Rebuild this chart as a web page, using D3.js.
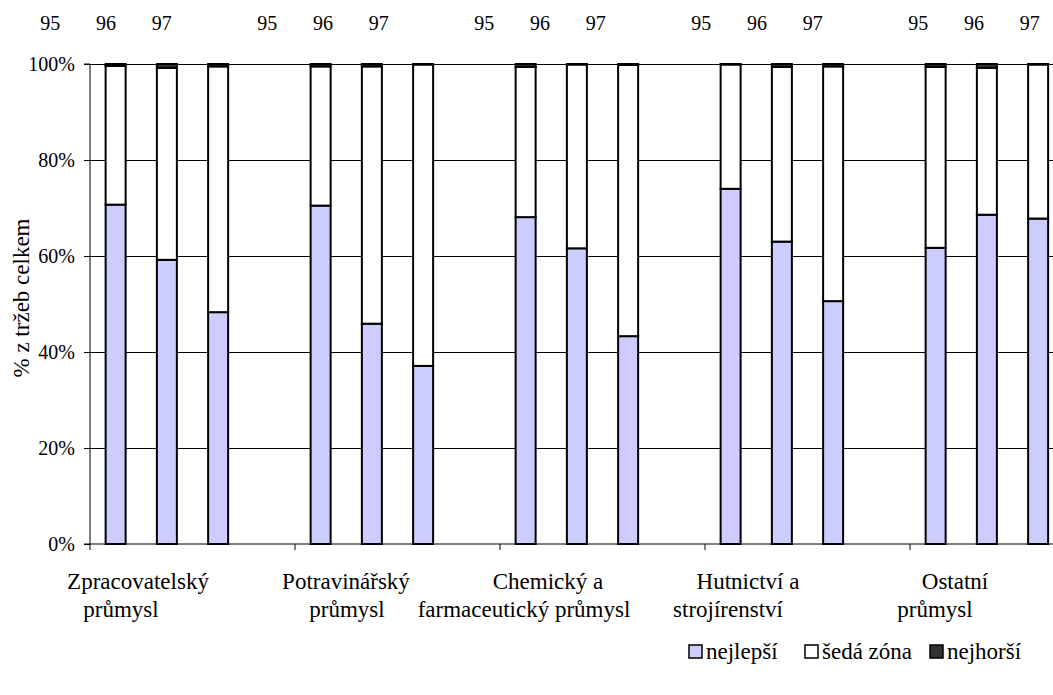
<!DOCTYPE html>
<html><head><meta charset="utf-8">
<script src="https://cdn.jsdelivr.net/npm/d3@7/dist/d3.min.js"></script>
</head><body style="margin:0;background:#fff"><svg id="c" width="1053" height="695" font-family="Times New Roman"></svg>
<script>
// ---- data ----
const categories = ["Zpracovatelský průmysl","Potravinářský průmysl","Chemický a farmaceutický průmysl","Hutnictví a strojírenství","Ostatní průmysl"];
const categoryLines = [["Zpracovatelský","průmysl"],["Potravinářský","průmysl"],["Chemický a","farmaceutický průmysl"],["Hutnictví a","strojírenství"],["Ostatní","průmysl"]];
const years = ["95","96","97"];
const seriesNames = ["nejlepší","šedá zóna","nejhorší"];
// values per category, per year (%)
const nejlepsi = [[70.7,59.2,48.3],[70.5,45.9,37.1],[68.1,61.6,43.3],[74.0,63.0,50.6],[61.7,68.6,67.8]];
const sedaZona = [[28.9,40.0,51.2],[29.0,53.6,62.8],[31.3,38.3,56.5],[25.9,36.4,48.9],[37.7,30.6,32.1]];
const nejhorsi = [[0.4,0.8,0.5],[0.5,0.5,0.1],[0.6,0.1,0.2],[0.1,0.6,0.5],[0.6,0.8,0.1]];
const yTicks = [0,20,40,60,80,100];
const colors = ["#ccccff","#ffffff","#333333"];

const svg = d3.select("#c");
const mLeft = 90, mTop = 64, mBottom = 544, plotRight = 1115;
const slots = ["95","96","97","gap"];
const xCat = d3.scaleBand().domain(categories).range([mLeft, plotRight]);
const xYear = d3.scaleBand().domain(slots).range([0, xCat.bandwidth()]);
const y = d3.scaleLinear().domain([0,100]).range([mBottom, mTop]);
const barW = 20;

function txt(sel, size){
  return sel.attr("font-family","Times New Roman").attr("font-size", size)
    .style("font-family", "Times New Roman").style("font-size", size+"px").attr("fill","#000");
}

svg.append("g").selectAll("line").data(yTicks.filter(d=>d>0)).join("line")
  .attr("x1", mLeft).attr("x2", 1053).attr("y1", d=>y(d)).attr("y2", d=>y(d))
  .attr("stroke", "#000").attr("stroke-width", 1).attr("shape-rendering","crispEdges");

const stackData = [];
categories.forEach((c,ci)=>{
  years.forEach((yr,yi)=>{
    const vals = [nejlepsi[ci][yi], sedaZona[ci][yi], nejhorsi[ci][yi]];
    let acc = 0;
    vals.forEach((v,si)=>{ stackData.push({c, yr, si, y0:acc, y1:acc+v}); acc+=v; });
  });
});
svg.append("g").selectAll("rect").data(stackData).join("rect")
  .attr("x", d=>xCat(d.c)+xYear(d.yr)+(xYear.bandwidth()-barW)/2)
  .attr("width", barW)
  .attr("y", d=>y(d.y1)).attr("height", d=>y(d.y0)-y(d.y1))
  .attr("fill", d=>colors[d.si]).attr("stroke","#000").attr("stroke-width",2);

const yAxis = d3.axisLeft(y).tickValues(yTicks).tickFormat(d=>d+"%").tickSize(6).tickPadding(9);
const ga = svg.append("g").attr("transform",`translate(${mLeft},0)`).call(yAxis);
ga.attr("font-family", "Times New Roman").attr("font-size", 20);
ga.select(".domain").attr("stroke","#000").attr("d",`M-6,${mTop}H0V${mBottom}H-6`);
ga.selectAll(".tick line").attr("stroke","#000");
txt(ga.selectAll("text"), 20);

const xa = svg.append("g");
xa.append("line").attr("x1",mLeft).attr("x2",1053).attr("y1",mBottom).attr("y2",mBottom).attr("stroke","#000");
xa.selectAll(".t").data(categories).join("line").attr("class","t")
  .attr("x1",d=>xCat(d)).attr("x2",d=>xCat(d)).attr("y1",mBottom).attr("y2",mBottom+6).attr("stroke","#000");

const l1Off = [48,51,48,43,45], l2Off = [31,52,24,23,25];
categories.forEach((c,i)=>{
  txt(svg.append("text").attr("x", xCat(c)+l1Off[i]).attr("y", 589).attr("text-anchor","middle"), 23).text(categoryLines[i][0]);
  txt(svg.append("text").attr("x", xCat(c)+l2Off[i]).attr("y", 617).attr("text-anchor","middle"), 23).text(categoryLines[i][1]);
});

const topCat = d3.scaleBand().domain(categories).range([23, 1108]);
const topYear = d3.scaleBand().domain(slots).range([0, topCat.bandwidth()]);
categories.forEach(c=>{
  txt(svg.append("g").selectAll("text").data(years).join("text")
    .attr("x", d=>topCat(c)+topYear(d)+topYear.bandwidth()/2 + years.indexOf(d)*1.5)
    .attr("y", 30).attr("text-anchor","middle"), 20).text(d=>d);
});

txt(svg.append("text").attr("transform","translate(29,298) rotate(-90)").attr("text-anchor","middle"), 23).text("% z tržeb celkem");

const legX = [689, 805, 930];
const lg = svg.append("g");
seriesNames.forEach((n,i)=>{
  lg.append("rect").attr("x",legX[i]).attr("y",645).attr("width",13).attr("height",13)
    .attr("fill",colors[i]).attr("stroke","#000").attr("stroke-width",1.5);
  txt(lg.append("text").attr("x",legX[i]+17).attr("y",659), 23).text(n);
});
</script></body></html>
